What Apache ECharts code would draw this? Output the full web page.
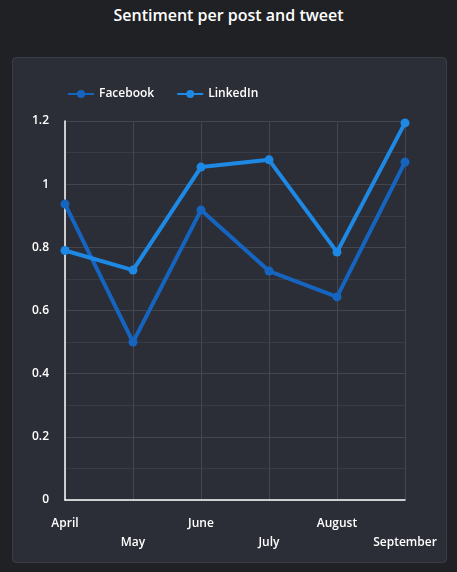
<!DOCTYPE html>
<html>
<head>
<meta charset="utf-8">
<script src="https://cdn.jsdelivr.net/npm/echarts@6/dist/echarts.min.js"></script>
<style>
  html, body { margin: 0; padding: 0; background: #1f2125; }
  #title { position: absolute; left: 0; top: 4px; width: 457px; text-align: center; color: #fff; font: 600 16px "Open Sans", sans-serif; }
  #panel { position: absolute; left: 12px; top: 57px; width: 433px; height: 504px; background: #2b2e36; border: 1px solid #3a3d45; border-radius: 4px; }
  #chart { position: absolute; left: 0; top: 0; width: 457px; height: 572px; }
</style>
</head>
<body>
<div id="title">Sentiment per post and tweet</div>
<div id="panel"></div>
<div id="chart"></div>
<script>
var months = ['April', 'May', 'June', 'July', 'August', 'September'];
var facebook = [0.937, 0.50, 0.918, 0.725, 0.643, 1.07];
var linkedin = [0.79, 0.728, 1.054, 1.077, 0.785, 1.194];

var myChart = echarts.init(document.getElementById('chart'));
var font = '"Open Sans", sans-serif';

var option = {
  animation: false,
  legend: {
    left: 62, top: 83,
    itemWidth: 26, itemHeight: 10, itemGap: 22,
    textStyle: { color: '#fff', fontSize: 12, fontWeight: 600, fontFamily: font },
    data: ['Facebook', 'LinkedIn']
  },
  grid: { left: 65, right: 52, top: 121, bottom: 72 },
  xAxis: {
    type: 'category',
    boundaryGap: false,
    data: months,
    axisLine: { lineStyle: { color: '#fff', width: 1.5 } },
    axisTick: { show: false },
    splitLine: { show: true, lineStyle: { color: '#43464e' } },
    axisLabel: {
      color: '#fff', fontWeight: 600, fontSize: 12, fontFamily: font,
      interval: 0, margin: 14, lineHeight: 19,
      formatter: function (v, i) { return i % 2 ? '\n' + v : v; }
    }
  },
  yAxis: {
    type: 'value',
    min: 0, max: 1.2, interval: 0.2,
    axisLine: { show: true, lineStyle: { color: '#fff', width: 1.5 } },
    axisTick: { show: false },
    splitLine: { lineStyle: { color: '#43464e' } },
    minorTick: { show: false, splitNumber: 2 },
    minorSplitLine: { show: true, lineStyle: { color: '#393c44' } },
    axisLabel: { color: '#fff', fontWeight: 600, fontSize: 12, fontFamily: font, margin: 16 }
  },
  series: [
    {
      name: 'Facebook', type: 'line', data: facebook,
      symbol: 'circle', symbolSize: 9,
      lineStyle: { width: 4, color: '#1565c0' },
      itemStyle: { color: '#1565c0' }
    },
    {
      name: 'LinkedIn', type: 'line', data: linkedin,
      symbol: 'circle', symbolSize: 9,
      lineStyle: { width: 4, color: '#1e88e5' },
      itemStyle: { color: '#1e88e5' }
    }
  ]
};

myChart.setOption(option);
window.onresize = () => { myChart.resize(); };
</script>
</body>
</html>
